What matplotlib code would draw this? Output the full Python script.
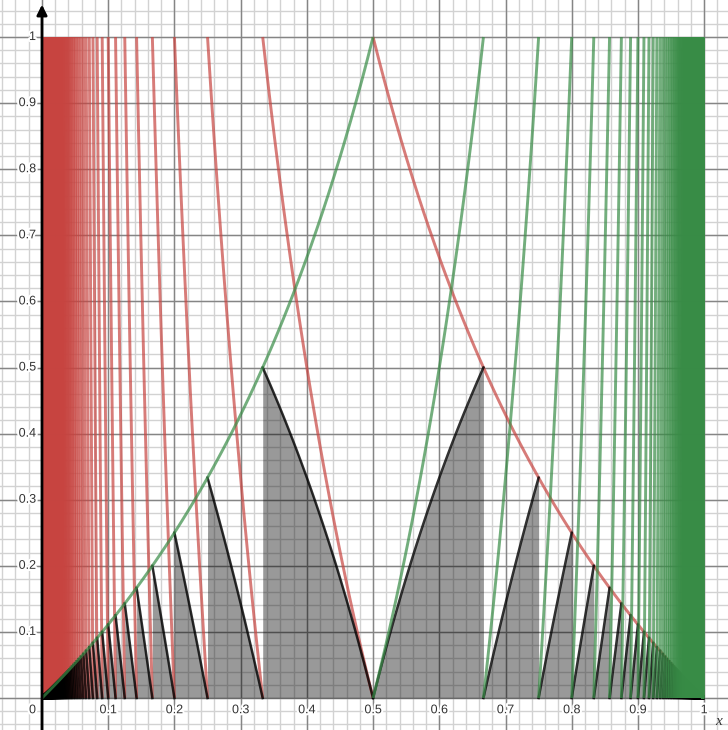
import matplotlib.pyplot as plt
import matplotlib.patheffects as pe
import numpy as np

# branch indices for the curve families
n_red = np.arange(1, 401)      # y = 1/x - n on [1/(n+1), 1/n]
n_green = np.arange(1, 401)    # mirror: y = 1/(1-x) - n
n_black = np.arange(2, 401)    # y = (1 - n x)/(1 - x), shaded below
x_ticks = [0, 0.1, 0.2, 0.3, 0.4, 0.5, 0.6, 0.7, 0.8, 0.9, 1]
x_tick_labels = ["0", "0.1", "0.2", "0.3", "0.4", "0.5", "0.6", "0.7", "0.8", "0.9", "1"]
y_ticks = [0.1, 0.2, 0.3, 0.4, 0.5, 0.6, 0.7, 0.8, 0.9, 1]
y_tick_labels = ["0.1", "0.2", "0.3", "0.4", "0.5", "0.6", "0.7", "0.8", "0.9", "1"]

RED = "#c74440"
GREEN = "#388c46"

fig = plt.figure(figsize=(7.28, 7.30), dpi=100)
ax = fig.add_axes([0, 0, 1, 1])
ax.set_xlim(-0.0634, 1.036)
ax.set_ylim(-0.0484, 1.056)

# grid
for v in np.arange(-0.06, 1.07, 0.02):
    ax.axvline(v, color="#d2d2d2", lw=1, zorder=0)
    ax.axhline(v, color="#d2d2d2", lw=1, zorder=0)
for v in np.arange(-0.0, 1.05, 0.1):
    ax.axvline(v, color="#858585", lw=1, zorder=0.5)
    ax.axhline(v, color="#858585", lw=1, zorder=0.5)

# shaded pieces under the black curves
for n in n_black:
    a, b = 1 / (n + 1), 1 / n
    x = np.linspace(a, b, 60)
    y = (1 - n * x) / (1 - x)
    ax.fill_between(x, 0, y, color="black", alpha=0.4, lw=0, zorder=1)
    xr = 1 - x
    ax.fill_between(xr, 0, y, color="black", alpha=0.4, lw=0, zorder=1)

# red branches
for n in n_red:
    a, b = 1 / (n + 1), 1 / n
    x = np.linspace(a, b, 60)
    y = 1 / x - n
    ax.plot(x, y, color=RED, lw=2.1, alpha=0.7, zorder=2, solid_capstyle="butt")

# black curves
for n in n_black:
    a, b = 1 / (n + 1), 1 / n
    x = np.linspace(a, b, 60)
    y = (1 - n * x) / (1 - x)
    ax.plot(x, y, color="black", lw=1.8, alpha=0.8, zorder=3)
    ax.plot(1 - x, y, color="black", lw=1.8, alpha=0.8, zorder=3)

# green branches (mirror of red)
for n in n_green:
    a, b = 1 / (n + 1), 1 / n
    x = np.linspace(a, b, 60)
    y = 1 / x - n
    ax.plot(1 - x, y, color=GREEN, lw=2.1, alpha=0.7, zorder=4, solid_capstyle="butt")

# axes with arrows
ax.annotate("", xy=(1.037, 0), xytext=(-0.0634, 0),
            arrowprops=dict(arrowstyle="-|>", lw=2, color="black", mutation_scale=15,
                            shrinkA=0, shrinkB=0), zorder=6)
ax.annotate("", xy=(0, 1.049), xytext=(0, -0.0484),
            arrowprops=dict(arrowstyle="-|>", lw=2, color="black", mutation_scale=15,
                            shrinkA=0, shrinkB=0), zorder=6)

halo = [pe.withStroke(linewidth=3, foreground="white")]
for v, s in zip(x_ticks, x_tick_labels):
    xx = -0.009 if v == 0 else v
    ha = "right" if v == 0 else "center"
    ax.text(xx, -0.0185, s, ha=ha, va="center", fontsize=9, color="#333333",
            family="Liberation Sans", path_effects=halo, zorder=7)
for v, s in zip(y_ticks, y_tick_labels):
    ax.text(-0.009, v, s, ha="right", va="center", fontsize=9, color="#333333",
            family="Liberation Sans", path_effects=halo, zorder=7)
ax.text(1.022, -0.036, "x", ha="center", va="center", fontsize=11, style="italic",
        color="#333333", family="Liberation Serif", zorder=7)

ax.set_axis_off()
fig.savefig("out.png", dpi=100)
